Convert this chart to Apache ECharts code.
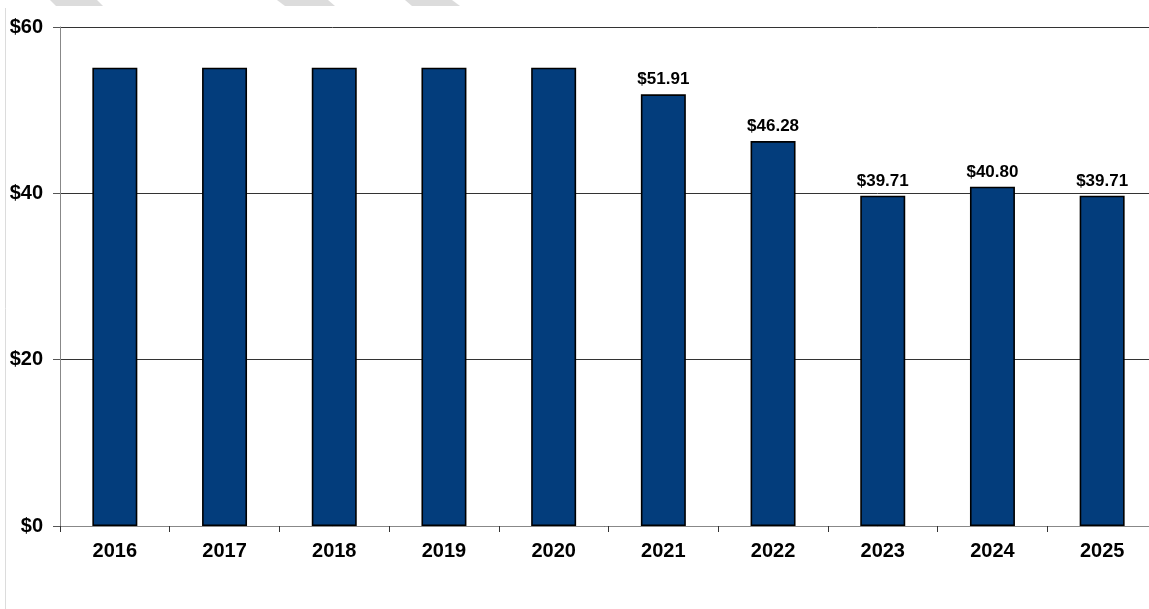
<!DOCTYPE html>
<html>
<head>
<meta charset="utf-8">
<script src="https://cdn.jsdelivr.net/npm/echarts@6/dist/echarts.min.js"></script>
<style>
html,body{margin:0;padding:0;background:#fff;}
#chart{width:1149px;height:609px;}
</style>
</head>
<body>
<div id="chart"></div>
<script>
const categories = ['2016','2017','2018','2019','2020','2021','2022','2023','2024','2025'];
const values = [55.1, 55.1, 55.1, 55.1, 55.1, 51.91, 46.28, 39.71, 40.80, 39.71];
const showLabel = [false, false, false, false, false, true, true, true, true, true];
const yTicks = [0, 20, 40, 60];

const chart = echarts.init(document.getElementById('chart'));
const font = '"Liberation Sans", Arial, sans-serif';

chart.setOption({
  animation: false,
  backgroundColor: '#fff',
  grid: { left: 60, top: 27, width: 1097, height: 499, containLabel: false, outerBoundsMode: 'none' },
  graphic: [
    { type: 'line', shape: { x1: 5.5, y1: 8, x2: 5.5, y2: 609 }, style: { stroke: '#dcdcdc', lineWidth: 1 } },
    { type: 'polygon', shape: { points: [[50,0],[97,0],[103,6],[56,6]] }, style: { fill: '#dcdcdc' } },
    { type: 'polygon', shape: { points: [[277,0],[328,0],[335,6],[285,6]] }, style: { fill: '#dcdcdc' } },
    { type: 'polygon', shape: { points: [[405,0],[452,0],[460,6],[412,6]] }, style: { fill: '#dcdcdc' } }
  ],
  xAxis: {
    type: 'category',
    data: categories,
    axisLine: { lineStyle: { color: '#888', width: 1 } },
    axisTick: { show: true, length: 6, alignWithLabel: false, lineStyle: { color: '#333' } },
    axisLabel: { color: '#000', fontFamily: font, fontWeight: 'bold', fontSize: 20, margin: 15 }
  },
  yAxis: {
    type: 'value',
    min: yTicks[0],
    max: yTicks[yTicks.length - 1],
    interval: 20,
    axisLine: { show: true, lineStyle: { color: '#888', width: 1 } },
    axisTick: { show: true, length: 7, lineStyle: { color: '#555' } },
    splitLine: { show: true, lineStyle: { color: '#333', width: 1 } },
    axisLabel: {
      color: '#000', fontFamily: font, fontWeight: 'bold', fontSize: 20, margin: 17,
      formatter: v => '$' + v
    }
  },
  series: [{
    type: 'bar',
    data: values.map((v, i) => ({ value: v, label: { show: showLabel[i] } })),
    barWidth: '41%',
    itemStyle: { color: '#033D7C', borderColor: '#000', borderWidth: 1.6 },
    label: {
      position: 'top',
      distance: 6,
      color: '#000',
      fontFamily: font,
      fontWeight: 'bold',
      fontSize: 17,
      formatter: p => '$' + p.value.toFixed(2)
    }
  }]
});
</script>
</body>
</html>
